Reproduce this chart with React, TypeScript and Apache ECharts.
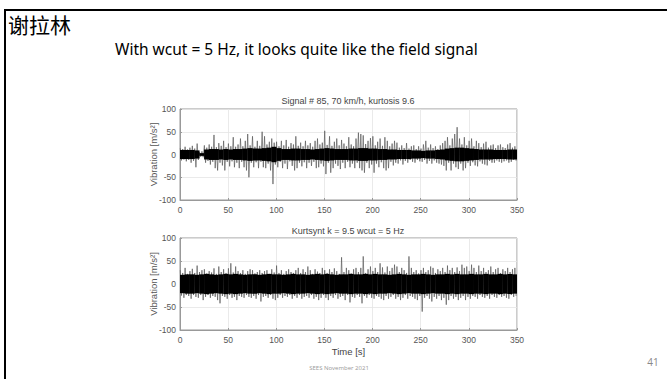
import React, { useEffect, useRef } from "react";
import * as echarts from "echarts";

const STEP = 2.5; // seconds between spike samples
const CORE_STEP = 5; // seconds per core-band bin

const xTicks = [0, 50, 100, 150, 200, 250, 300, 350];
const yTicks = [-100, -50, 0, 50, 100];

const title1 = "Signal # 85, 70 km/h, kurtosis 9.6";
const title2 = "Kurtsynt k = 9.5 wcut = 5 Hz";

// Chart 1: field signal — positive / negative peaks per 2.5 s
const sig1Max = [14,12,17,11,15,19,13,24,5,7,20,15,22,17,43,16,25,19,30,16,24,18,38,17,22,35,18,30,45,20,40,17,30,19,50,40,22,28,35,26,28,18,30,20,32,17,25,22,40,19,26,18,30,20,25,17,30,35,22,26,52,21,40,19,28,35,20,32,24,18,38,22,18,35,48,45,42,23,30,36,40,20,28,35,19,38,30,18,24,30,26,15,20,14,25,13,18,20,12,18,13,22,30,15,22,14,18,12,20,25,30,38,20,35,45,60,35,22,38,20,30,35,18,30,25,16,24,28,15,20,22,14,20,22,16,14,22,25,15,18];
const sig1Min = [-13,-11,-15,-12,-18,-14,-28,-12,-5,-6,-18,-14,-22,-16,-30,-35,-18,-24,-35,-16,-26,-15,-28,-18,-30,-16,-28,-35,-50,-18,-28,-17,-30,-16,-28,-30,-20,-35,-65,-22,-28,-16,-30,-20,-32,-15,-25,-35,-30,-18,-26,-17,-30,-18,-25,-16,-30,-28,-20,-26,-43,-18,-40,-30,-20,-25,-32,-18,-30,-16,-28,-20,-30,-18,-30,-35,-40,-18,-30,-22,-40,-20,-28,-17,-30,-35,-30,-16,-24,-18,-20,-13,-22,-14,-18,-12,-16,-18,-12,-15,-16,-12,-20,-14,-20,-13,-18,-20,-22,-25,-35,-18,-35,-20,-28,-32,-20,-35,-30,-18,-25,-17,-24,-26,-15,-20,-22,-24,-14,-18,-18,-13,-16,-18,-15,-13,-18,-16,-12,-14];
const sig1Core = [10,10,10,9,3,11,12,12,11,12,11,12,12,13,14,13,13,14,15,17,14,12,12,13,13,12,12,11,12,13,14,13,12,12,12,13,13,14,14,13,13,12,12,11,11,10,10,10,9,9,8,9,9,10,11,13,14,15,15,14,13,12,11,11,11,10,10,10,11,11];

// Chart 2: synthetic signal (Kurtsynt)
const sig2Max = [30,24,35,22,28,33,24,40,26,30,32,23,28,25,34,22,38,26,32,24,34,45,25,38,28,24,30,22,28,32,30,23,26,30,24,28,30,22,32,25,40,24,30,22,28,32,26,24,30,35,24,32,26,38,30,22,32,27,24,35,30,24,32,26,34,28,22,58,26,35,30,23,32,35,26,35,60,24,32,38,28,35,26,45,36,25,38,28,35,42,38,26,35,30,24,60,35,26,30,23,30,35,26,30,38,35,24,32,28,35,26,40,30,35,26,36,28,42,35,38,28,42,35,26,40,28,35,26,30,38,26,32,35,24,32,28,35,26,32,35];
const sig2Min = [-25,-30,-24,-26,-32,-24,-28,-30,-24,-35,-28,-24,-30,-26,-28,-35,-42,-26,-28,-32,-24,-30,-28,-35,-26,-28,-30,-24,-28,-30,-26,-32,-24,-38,-28,-26,-30,-24,-32,-35,-30,-24,-30,-26,-28,-24,-32,-26,-30,-24,-32,-28,-26,-30,-24,-32,-28,-35,-30,-24,-30,-35,-26,-30,-24,-32,-28,-26,-35,-24,-40,-28,-30,-24,-28,-42,-26,-30,-24,-30,-32,-26,-28,-32,-35,-26,-32,-28,-24,-32,-28,-35,-30,-24,-32,-26,-28,-32,-35,-26,-60,-30,-26,-32,-38,-28,-32,-26,-35,-30,-45,-35,-26,-32,-28,-35,-30,-26,-35,-28,-32,-26,-28,-32,-24,-28,-30,-26,-32,-24,-28,-30,-24,-28,-26,-30,-32,-24,-28,-26];
const sig2Core = [20,21,21,20,21,22,21,20,21,22,21,22,21,20,21,21,20,21,22,21,21,20,21,22,21,21,20,21,22,21,22,21,20,21,21,22,21,21,22,21,22,21,21,20,21,22,21,20,21,21,22,21,20,21,21,22,21,22,21,21,22,21,21,22,21,21,22,21,22,21];

function zigzag(maxArr: number[], minArr: number[]) {
  const out: number[][] = [];
  for (let i = 0; i < maxArr.length; i++) {
    const t = i * STEP;
    out.push([t + 0.3, maxArr[i]]);
    out.push([t + STEP / 2 + 0.3, minArr[i]]);
  }
  return out;
}

function coreData(core: number[]) {
  return core.map((a, i) => [i * CORE_STEP, a]);
}

const coreRender = (params: any, api: any) => {
  const t = api.value(0);
  const a = api.value(1);
  const p1 = api.coord([t, a]);
  const p2 = api.coord([Math.min(t + CORE_STEP, 350), -a]);
  return {
    type: "rect",
    shape: { x: p1[0], y: p1[1], width: p2[0] - p1[0] + 0.3, height: p2[1] - p1[1] },
    style: { fill: "#000" },
    z2: 10,
  };
};

export default function App() {
  const ref = useRef<HTMLDivElement>(null);
  useEffect(() => {
    if (!ref.current) return;
    const chart = echarts.init(ref.current, undefined, { renderer: "svg" });
    const font = "Liberation Sans, Arial, sans-serif";
    const axisLabel = { color: "#555", fontSize: 8.5, fontFamily: font };
    const mkX = (gi: number, name: string) => ({
      type: "value",
      gridIndex: gi,
      min: 0,
      max: 350,
      interval: 50,
      name,
      nameLocation: "middle",
      nameGap: 16,
      nameTextStyle: { color: "#444", fontSize: 9.5, fontFamily: font },
      axisLine: { show: true, onZero: false, lineStyle: { color: "#999", width: 1 } },
      axisTick: { show: true, inside: true, length: 2, lineStyle: { color: "#999" } },
      axisLabel: { ...axisLabel, margin: 5 },
      splitLine: { show: true, lineStyle: { color: "#e4e4e4", width: 0.8 } },
    });
    const mkY = (gi: number) => ({
      type: "value",
      gridIndex: gi,
      min: -100,
      max: 100,
      interval: 50,
      name: "Vibration [m/s²]",
      nameLocation: "middle",
      nameGap: 22,
      nameMoveOverlap: false,
      nameRotate: 90,
      nameTextStyle: { color: "#555", fontSize: 9.5, fontFamily: font },
      axisLine: { show: true, lineStyle: { color: "#999", width: 1 } },
      axisTick: { show: true, inside: true, length: 2, lineStyle: { color: "#999" } },
      axisLabel: { ...axisLabel, margin: 4 },
      splitLine: { show: true, lineStyle: { color: "#e4e4e4", width: 0.8 } },
    });
    const spikeStyle = { color: "#5a5a5a", width: 0.7 };
    chart.setOption({
      animation: false,
      backgroundColor: "#fff",
      grid: [
        { left: 180, top: 109, width: 337, height: 91, show: true, borderColor: "#999", borderWidth: 1, backgroundColor: "#fff" },
        { left: 180, top: 238, width: 337, height: 92, show: true, borderColor: "#999", borderWidth: 1, backgroundColor: "#fff" },
      ],
      xAxis: [mkX(0, ""), mkX(1, "Time [s]")],
      yAxis: [mkY(0), mkY(1)],
      series: [
        {
          type: "line",
          xAxisIndex: 0,
          yAxisIndex: 0,
          data: zigzag(sig1Max, sig1Min),
          showSymbol: false,
          symbol: "none",
          lineStyle: spikeStyle,
          silent: true,
          z: 2,
        },
        {
          type: "custom",
          xAxisIndex: 0,
          yAxisIndex: 0,
          data: coreData(sig1Core),
          renderItem: coreRender,
          silent: true,
          clip: true,
          z: 3,
        },
        {
          type: "line",
          xAxisIndex: 1,
          yAxisIndex: 1,
          data: zigzag(sig2Max, sig2Min),
          showSymbol: false,
          symbol: "none",
          lineStyle: spikeStyle,
          silent: true,
          z: 2,
        },
        {
          type: "custom",
          xAxisIndex: 1,
          yAxisIndex: 1,
          data: coreData(sig2Core),
          renderItem: coreRender,
          silent: true,
          clip: true,
          z: 3,
        },
      ],
      graphic: [
        { type: "rect", shape: { x: 4, y: 9, width: 663, height: 2 }, style: { fill: "#000" } },
        { type: "rect", shape: { x: 4, y: 9, width: 2, height: 370 }, style: { fill: "#000" } },
        {
          type: "text",
          x: 8,
          y: 13,
          style: { text: "谢拉林", fontSize: 21, fontFamily: "Noto Sans CJK SC", fill: "#000" },
        },
        {
          type: "text",
          x: 115,
          y: 41,
          style: {
            text: "With wcut = 5 Hz, it looks quite like the field signal",
            fontSize: 15.5,
            fontFamily: "Noto Sans, sans-serif",
            fill: "#000",
          },
        },
        {
          type: "text",
          x: 348,
          y: 101,
          style: { text: title1, fontSize: 9, fontFamily: font, fill: "#444", align: "center", verticalAlign: "middle" },
        },
        {
          type: "text",
          x: 348,
          y: 231,
          style: { text: title2, fontSize: 9, fontFamily: font, fill: "#444", align: "center", verticalAlign: "middle" },
        },
        {
          type: "text",
          x: 339,
          y: 368,
          style: { text: "SEES November 2021", fontSize: 6, fontFamily: "Open Sans, sans-serif", fill: "#999", align: "center", verticalAlign: "middle" },
        },
        {
          type: "text",
          x: 653,
          y: 362,
          style: { text: "41", fontSize: 10, fontFamily: "Open Sans, sans-serif", fill: "#888", align: "center", verticalAlign: "middle" },
        },
      ],
    });
    return () => chart.dispose();
  }, []);
  return (
    <div
      ref={ref}
      style={{ position: "absolute", left: 0, top: 0, width: 667, height: 379 }}
    />
  );
}
